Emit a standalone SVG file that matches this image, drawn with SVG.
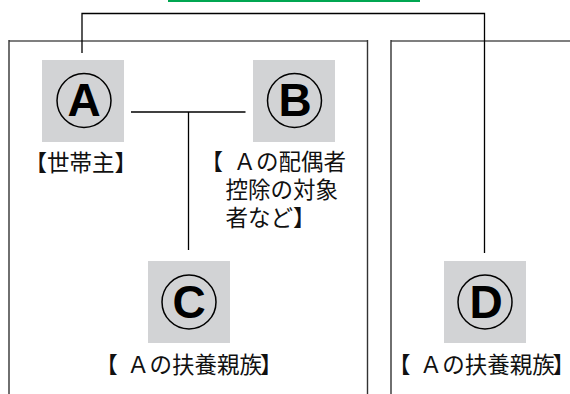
<svg xmlns="http://www.w3.org/2000/svg" width="570" height="394" viewBox="0 0 570 394">
<style>
.box{fill:#d2d3d5;}
.ring{fill:none;stroke:#000;stroke-width:1.5;}
.letter{font-family:"Liberation Sans",Arial,sans-serif;font-weight:bold;font-size:46px;text-anchor:middle;fill:#000;}
.lbl{font-family:"Noto Sans CJK JP","Noto Sans",sans-serif;font-size:22.5px;fill:#111;}
.frameTop{stroke:#7f7f7f;stroke-width:2;fill:none;}
.frameSide{stroke:#333;stroke-width:1.4;fill:none;}
.conn{stroke:#000;stroke-width:1.3;fill:none;}
</style>
<rect x="0" y="0" width="570" height="394" fill="#fff"/>
<rect x="168" y="0" width="252" height="2" fill="#00a651"/>
<g id="frames">
<line class="frameTop" x1="9" y1="41" x2="367.5" y2="41"/>
<line class="frameSide" x1="9" y1="40" x2="9" y2="394"/>
<line class="frameSide" x1="367.5" y1="40" x2="367.5" y2="394"/>
<line class="frameTop" x1="391" y1="41" x2="570" y2="41"/>
<line class="frameSide" x1="391" y1="40" x2="391" y2="394"/>
</g>
<g id="connectors">
<polyline class="conn" points="82,53 82,13.5 484.5,13.5 484.5,253"/>
<line class="conn" x1="131" y1="112" x2="245.5" y2="112"/>
<line class="conn" x1="188.5" y1="112" x2="188.5" y2="250"/>
</g>
<g id="nodeA">
<rect class="box" x="42" y="60" width="82" height="82"/>
<circle class="ring" cx="84" cy="100.5" r="27"/>
<text class="letter" x="84" y="116">A</text>
<text class="lbl" x="24.5" y="171">【世帯主】</text>
</g>
<g id="nodeB">
<rect class="box" x="253" y="60" width="82" height="82"/>
<circle class="ring" cx="294.5" cy="100.5" r="27"/>
<text class="letter" x="295" y="116">B</text>
<text class="lbl" y="170"><tspan x="200.5">【</tspan><tspan x="233.5">Ａの配偶者</tspan></text>
<text class="lbl" x="225.5" y="198">控除の対象</text>
<text class="lbl" x="225.5" y="226">者など】</text>
</g>
<g id="nodeC">
<rect class="box" x="148" y="261" width="82" height="82"/>
<circle class="ring" cx="189" cy="302" r="27"/>
<text class="letter" x="189" y="318">C</text>
<text class="lbl" y="373"><tspan x="95.3">【</tspan><tspan x="127">Ａの扶養親族</tspan><tspan x="260">】</tspan></text>
</g>
<g id="nodeD">
<rect class="box" x="444" y="261" width="82" height="82"/>
<circle class="ring" cx="485" cy="302" r="27"/>
<text class="letter" x="486" y="318">D</text>
<text class="lbl" y="373"><tspan x="388">【</tspan><tspan x="419.7">Ａの扶養親族</tspan><tspan x="552.5">】</tspan></text>
</g>
</svg>
